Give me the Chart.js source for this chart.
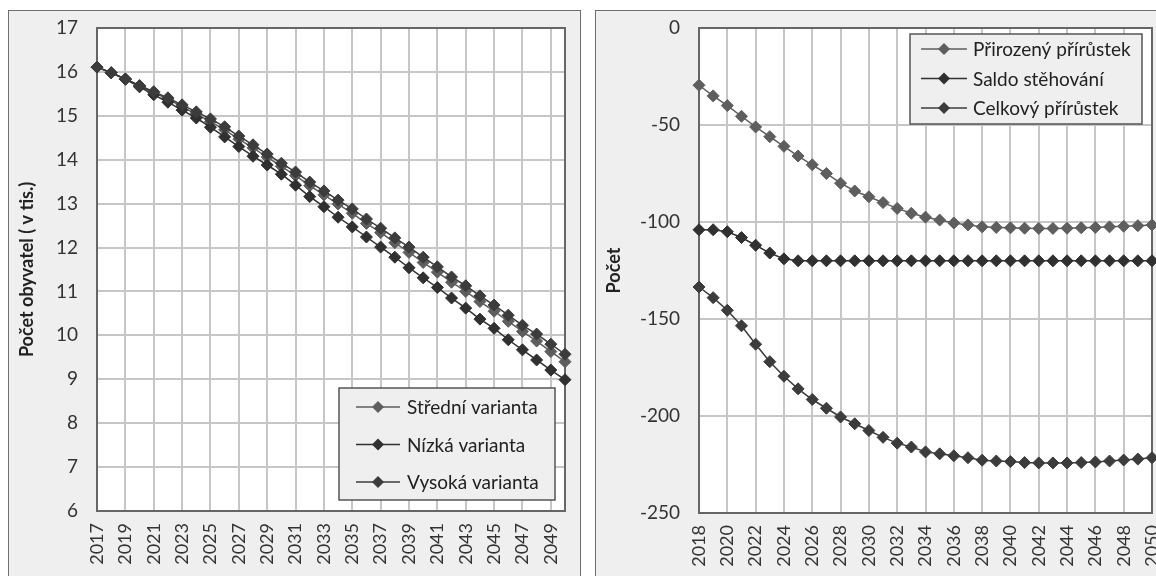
<!DOCTYPE html>
<html>
<head>
<meta charset="utf-8">
<script src="https://cdn.jsdelivr.net/npm/chart.js@4.4.0/dist/chart.umd.min.js"></script>
<style>
  html, body { margin: 0; padding: 0; background: #fff; overflow: hidden; width: 1156px; height: 576px; }
  .panel { position: absolute; top: 10px; height: 600px; background: #efefef; border: 1px solid #707070; }
  #p1 { left: 8px; width: 571px; }
  #p2 { left: 595px; width: 600px; }
  canvas { display: block; }
</style>
</head>
<body>
<div class="panel" id="p1"><canvas id="c1" width="571" height="565"></canvas></div>
<div class="panel" id="p2"><canvas id="c2" width="571" height="565"></canvas></div>
<script>
// levý graf - projekce počtu obyvatel (v tis.)
const yearsA = ['2017','2018','2019','2020','2021','2022','2023','2024','2025','2026','2027','2028',
  '2029','2030','2031','2032','2033','2034','2035','2036','2037','2038','2039','2040','2041','2042',
  '2043','2044','2045','2046','2047','2048','2049','2050'];
const stredni = [16.11, 15.98, 15.84, 15.68, 15.53, 15.38, 15.21, 15.04, 14.87, 14.68, 14.47, 14.27,
  14.06, 13.85, 13.64, 13.41, 13.20, 12.99, 12.78, 12.55, 12.34, 12.11, 11.89, 11.66, 11.44, 11.21,
  11.00, 10.77, 10.55, 10.32, 10.09, 9.87, 9.63, 9.40];
const nizka = [16.11, 15.98, 15.83, 15.66, 15.48, 15.31, 15.13, 14.95, 14.74, 14.52, 14.30, 14.08,
  13.88, 13.67, 13.42, 13.16, 12.93, 12.69, 12.47, 12.24, 12.01, 11.78, 11.54, 11.31, 11.09, 10.85,
  10.62, 10.37, 10.16, 9.90, 9.67, 9.44, 9.21, 8.99];
const vysoka = [16.11, 15.98, 15.84, 15.69, 15.55, 15.41, 15.25, 15.09, 14.93, 14.75, 14.54, 14.34,
  14.13, 13.92, 13.72, 13.49, 13.29, 13.08, 12.88, 12.65, 12.44, 12.22, 12.01, 11.78, 11.56, 11.33,
  11.13, 10.90, 10.69, 10.46, 10.23, 10.03, 9.80, 9.57];

// pravý graf - složky přírůstku
const yearsB = ['2018','2019','2020','2021','2022','2023','2024','2025','2026','2027','2028','2029',
  '2030','2031','2032','2033','2034','2035','2036','2037','2038','2039','2040','2041','2042','2043',
  '2044','2045','2046','2047','2048','2049','2050'];
const prirozeny = [-29.5, -35, -40, -45.5, -51, -56, -61, -66, -70.5, -75, -80, -84, -87, -90, -93,
  -95.5, -97.5, -99, -100.5, -101.5, -102.5, -102.8, -103, -103.2, -103.3, -103.3, -103.2, -103,
  -102.8, -102.5, -102.2, -101.9, -101.5];
const saldo = [-104, -104, -105, -108, -112, -116, -119, -120, -120, -120, -120, -120, -120, -120,
  -120, -120, -120, -120, -120, -120, -120, -120, -120, -120, -120, -120, -120, -120, -120, -120,
  -120, -120, -120];
const celkovy = [-133.5, -139, -145.5, -153.5, -163, -172, -179.5, -186, -191.5, -196, -200.5, -204,
  -207.5, -211, -214, -216, -218.5, -219.5, -220.5, -221.5, -222.8, -223.2, -223.5, -224, -224.2,
  -224.2, -224.2, -224, -223.7, -223.2, -222.7, -222.2, -221.5];

Chart.defaults.font.family = 'Lato';
Chart.defaults.color = '#333';

// bílá plocha grafu + rámeček
const plotFrame = {
  id: 'plotFrame',
  beforeDraw(chart) {
    const a = chart.chartArea, ctx = chart.ctx;
    ctx.save();
    ctx.fillStyle = '#fff';
    ctx.fillRect(a.left, a.top, a.right - a.left, a.bottom - a.top);
    ctx.restore();
  },
  beforeDatasetsDraw(chart) {
    const a = chart.chartArea, ctx = chart.ctx;
    ctx.save();
    ctx.strokeStyle = '#666';
    ctx.lineWidth = 2;
    ctx.strokeRect(a.left, a.top, a.right - a.left, a.bottom - a.top);
    ctx.restore();
  }
};

// legenda v rámečku uvnitř plochy grafu
const boxLegend = {
  id: 'boxLegend',
  afterDatasetsDraw(chart, args, o) {
    const a = chart.chartArea, ctx = chart.ctx;
    const x = a.right - o.right - o.width;
    const y = o.top != null ? a.top + o.top : a.bottom - o.bottom - o.height;
    ctx.save();
    ctx.fillStyle = '#efefef';
    ctx.fillRect(x, y, o.width, o.height);
    ctx.strokeStyle = '#555';
    ctx.lineWidth = 1.5;
    ctx.strokeRect(x, y, o.width, o.height);
    ctx.font = o.size + 'px Lato';
    ctx.textBaseline = 'middle';
    chart.data.datasets.forEach((ds, i) => {
      const cy = y + o.firstRow + i * o.rowGap;
      const lx = x + o.lineX;
      const mx = lx + o.lineLen / 2;
      ctx.strokeStyle = ds.borderColor;
      ctx.lineWidth = 1.5;
      ctx.beginPath();
      ctx.moveTo(lx, cy);
      ctx.lineTo(lx + o.lineLen, cy);
      ctx.stroke();
      ctx.fillStyle = ds.backgroundColor;
      ctx.beginPath();
      ctx.moveTo(mx - 6, cy);
      ctx.lineTo(mx, cy - 6);
      ctx.lineTo(mx + 6, cy);
      ctx.lineTo(mx, cy + 6);
      ctx.closePath();
      ctx.fill();
      ctx.fillStyle = '#222';
      ctx.fillText(ds.label, lx + o.lineLen + o.textGap, cy + 1);
    });
    ctx.restore();
  }
};

function series(label, data, color, order) {
  return {
    label: label,
    data: data,
    borderColor: color,
    backgroundColor: color,
    borderWidth: 1.5,
    pointStyle: 'rectRot',
    pointRadius: 6,
    pointBorderWidth: 1,
    tension: 0,
    order: order
  };
}

function xAxis(h) {
  return {
    type: 'category',
    offset: false,
    grid: { color: c => c.index % 2 === 0 ? '#c6c6c6' : 'rgba(0,0,0,0)', lineWidth: 2, drawTicks: false },
    border: { display: false },
    ticks: {
      autoSkip: false, minRotation: 90, maxRotation: 90, padding: 12,
      color: '#333', font: { size: 18 },
      callback: function(v, i) { return i % 2 === 0 ? this.getLabelForValue(v) : ''; }
    },
    afterFit: s => { s.height = h; s.paddingLeft = 0; s.paddingRight = 0; }
  };
}

function yAxis(min, max, step, title, w) {
  return {
    min: min, max: max,
    grid: { color: '#c6c6c6', lineWidth: 2, drawTicks: false },
    border: { display: false },
    ticks: { stepSize: step, padding: 19, color: '#333', font: { size: 19 } },
    title: { display: true, text: title, color: '#222', font: { size: 18, weight: 'bold' }, padding: { top: 7, bottom: 0 } },
    afterFit: s => { s.width = w; s.paddingTop = 0; s.paddingBottom = 0; }
  };
}

new Chart(document.getElementById('c1'), {
  type: 'line',
  data: {
    labels: yearsA,
    datasets: [
      series('Střední varianta', stredni, '#5e5e5e', 3),
      series('Nízká varianta', nizka, '#303030', 2),
      series('Vysoká varianta', vysoka, '#3c3c3c', 1)
    ]
  },
  options: {
    responsive: false,
    animation: false,
    layout: { padding: { top: 17, right: 15, left: 0, bottom: 0 } },
    scales: {
      x: xAxis(65),
      y: yAxis(6, 17, 1, 'Počet obyvatel ( v tis.)', 88)
    },
    plugins: {
      legend: { display: false },
      tooltip: { enabled: false },
      boxLegend: { right: 10, bottom: 11, width: 216, height: 112, firstRow: 19, rowGap: 37.5,
        lineX: 17, lineLen: 44, textGap: 7, size: 19 }
    }
  },
  plugins: [plotFrame, boxLegend]
});

new Chart(document.getElementById('c2'), {
  type: 'line',
  data: {
    labels: yearsB,
    datasets: [
      series('Přirozený přírůstek', prirozeny, '#5e5e5e', 3),
      series('Saldo stěhování', saldo, '#303030', 2),
      series('Celkový přírůstek', celkovy, '#3c3c3c', 1)
    ]
  },
  options: {
    responsive: false,
    animation: false,
    layout: { padding: { top: 17, right: 15, left: 0, bottom: 0 } },
    scales: {
      x: xAxis(63),
      y: yAxis(-250, 0, 50, 'Počet', 103)
    },
    plugins: {
      legend: { display: false },
      tooltip: { enabled: false },
      boxLegend: { right: 10, top: 6, width: 232, height: 90, firstRow: 15, rowGap: 29.5,
        lineX: 11, lineLen: 46, textGap: 6, size: 19 }
    }
  },
  plugins: [plotFrame, boxLegend]
});
</script>
</body>
</html>
